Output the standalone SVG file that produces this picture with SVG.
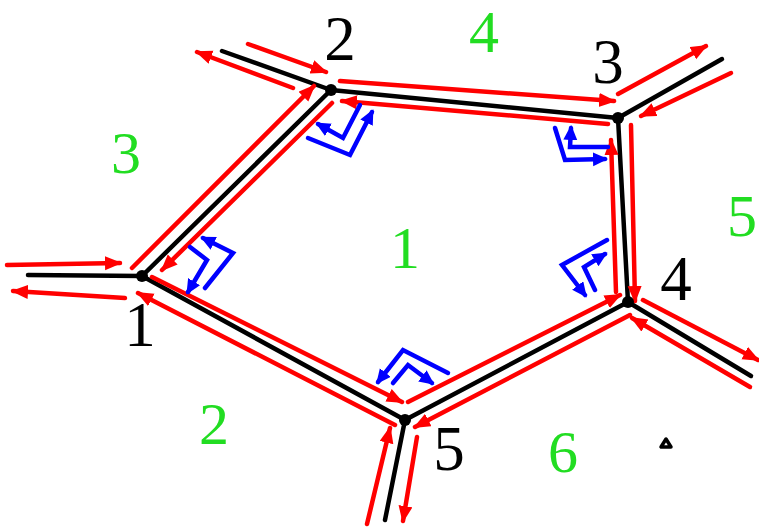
<svg xmlns="http://www.w3.org/2000/svg" width="759" height="529" viewBox="0 0 759 529">
<defs>
<marker id="ra" markerUnits="userSpaceOnUse" markerWidth="20" markerHeight="16" refX="15" refY="7" orient="auto"><path d="M0,0 L17,7 L0,14 Z" fill="#ff0000"/></marker>
<marker id="ba" markerUnits="userSpaceOnUse" markerWidth="18" markerHeight="16" refX="12" refY="7" orient="auto"><path d="M0,0 L15,7 L0,14 Z" fill="#0000ff"/></marker>
</defs>
<style>
.e{stroke:#000;stroke-width:4.5;fill:none;stroke-linecap:round}
.r{stroke:#ff0000;stroke-width:4.5;fill:none;stroke-linecap:round;marker-end:url(#ra)}
.b{stroke:#0000ff;stroke-width:4.5;fill:none;stroke-linecap:round;stroke-linejoin:miter;marker-end:url(#ba)}
.n{font-family:"Liberation Serif","Times New Roman",serif;font-size:63px;text-anchor:middle;fill:#000}
.f{font-family:"Liberation Serif","Times New Roman",serif;font-size:60px;text-anchor:middle;fill:#22dd22}
</style>
<g id="connectors">
<line class="e" x1="142" y1="276" x2="331" y2="90"/>
<line class="e" x1="331" y1="90" x2="618" y2="118"/>
<line class="e" x1="618" y1="118" x2="628" y2="302"/>
<line class="e" x1="628" y1="302" x2="405" y2="420"/>
<line class="e" x1="405" y1="420" x2="142" y2="276"/>
<line class="e" x1="28" y1="275" x2="142" y2="276"/>
<line class="e" x1="222" y1="51" x2="331" y2="90"/>
<line class="e" x1="722" y1="59" x2="618" y2="118"/>
<line class="e" x1="751" y1="376" x2="628" y2="302"/>
<line class="e" x1="385" y1="520" x2="405" y2="420"/>
<line class="r" x1="132" y1="268" x2="314" y2="86"/>
<line class="r" x1="332" y1="103" x2="162" y2="270"/>
<line class="r" x1="340" y1="81" x2="614" y2="101"/>
<line class="r" x1="608" y1="124" x2="342" y2="101"/>
<line class="r" x1="616" y1="292" x2="611" y2="140"/>
<line class="r" x1="631" y1="125" x2="635" y2="301"/>
<line class="r" x1="408" y1="402" x2="620" y2="295"/>
<line class="r" x1="630" y1="315" x2="415" y2="427"/>
<line class="r" x1="152" y1="277" x2="402" y2="402"/>
<line class="r" x1="395" y1="425" x2="138" y2="293"/>
<line class="r" x1="7" y1="265" x2="120" y2="263"/>
<line class="r" x1="125" y1="298" x2="13" y2="291"/>
<line class="r" x1="248" y1="44" x2="326" y2="72"/>
<line class="r" x1="293" y1="88" x2="197" y2="52"/>
<line class="r" x1="618" y1="94" x2="706" y2="46"/>
<line class="r" x1="731" y1="73" x2="641" y2="116"/>
<line class="r" x1="643" y1="300" x2="758" y2="360"/>
<line class="r" x1="750" y1="387" x2="632" y2="318"/>
<line class="r" x1="367" y1="524" x2="390" y2="428"/>
<line class="r" x1="417" y1="437" x2="403" y2="521"/>
<polyline class="b" points="308,138 350,155 372,112"/>
<polyline class="b" points="360,105 343,138 318,124"/>
<polyline class="b" points="555,128 565,160 605,159"/>
<polyline class="b" points="608,147 570,147 571,128"/>
<polyline class="b" points="607,240 562,265 585,295"/>
<polyline class="b" points="595,290 584,267 605,254"/>
<polyline class="b" points="448,373 403,350 378,382"/>
<polyline class="b" points="393,383 408,365 432,383"/>
<polyline class="b" points="205,288 233,253 203,238"/>
<polyline class="b" points="190,247 207,260 188,292"/>
</g>
<g id="node1"><circle cx="142" cy="276" r="6"/><text class="n" x="140" y="346">1</text></g>
<g id="node2"><circle cx="331" cy="90" r="6"/><text class="n" x="340" y="60">2</text></g>
<g id="node3"><circle cx="618" cy="118" r="6"/><text class="n" x="608" y="83">3</text></g>
<g id="node4"><circle cx="628" cy="302" r="6"/><text class="n" x="676" y="300">4</text></g>
<g id="node5"><circle cx="405" cy="420" r="6"/><text class="n" x="449" y="470">5</text></g>
<g id="faces">
<text class="f" x="405" y="268">1</text>
<text class="f" x="214" y="444">2</text>
<text class="f" x="126" y="173">3</text>
<text class="f" x="484" y="52">4</text>
<text class="f" x="742" y="236">5</text>
<text class="f" x="563" y="472">6</text>
</g>
<polygon points="661,447 671,447 666,439" fill="#fff" stroke="#000" stroke-width="3.5" stroke-linejoin="round"/>
</svg>
